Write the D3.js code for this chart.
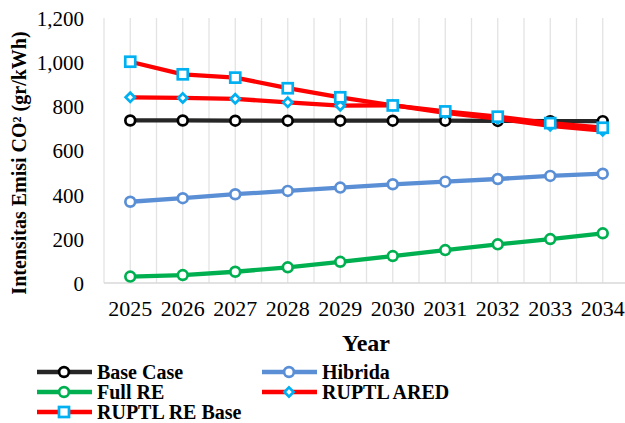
<!DOCTYPE html>
<html>
<head>
<meta charset="utf-8">
<script src="https://cdn.jsdelivr.net/npm/d3@7/dist/d3.min.js"></script>
<style>
  html, body { margin: 0; padding: 0; background: #fff; }
  svg { display: block; }
  svg text { font-family: "Liberation Serif", "Times New Roman", Times, "DejaVu Serif", serif !important; }
</style>
</head>
<body>
<svg id="chart" width="625" height="423"></svg>
<script>
const years = ["2025","2026","2027","2028","2029","2030","2031","2032","2033","2034"];
const yTicks = [0, 200, 400, 600, 800, 1000, 1200];

const baseCase   = [736, 736, 735, 735, 735, 735, 735, 734, 733, 733];
const hibrida    = [368, 384, 402, 417, 432, 447, 459, 471, 485, 495];
const fullRE     = [29, 36, 51, 71, 96, 122, 149, 175, 199, 225];
const ruptlARED  = [841, 838, 834, 818, 803, 805, 770, 744, 712, 690];
const ruptlREBase= [1002, 945, 930, 882, 841, 804, 777, 753, 724, 703];

const seriesNames  = ["Base Case", "Hibrida", "Full RE", "RUPTL ARED", "RUPTL RE Base"];
const seriesValues = [baseCase, hibrida, fullRE, ruptlARED, ruptlREBase];
const lineColors   = ["#262626", "#5A8FD6", "#00B050", "#FF0000", "#FF0000"];
const markerColors = ["#000000", "#5A8FD6", "#00B050", "#00B0F0", "#00B0F0"];
const markerShapes = ["circle", "circle", "circle", "diamond", "square"];

const FONT = "'Liberation Serif', 'Times New Roman', Times, 'DejaVu Serif', serif";

const svg = d3.select("#chart");
const plot = { left: 104, right: 629, top: 18, bottom: 283 };

const x = d3.scaleBand().domain(years).range([plot.left, plot.right]);
const y = d3.scaleLinear().domain([0, 1200]).range([plot.bottom, plot.top]);
const cx = d => x(d) + x.bandwidth() / 2;

// vertical gridlines at category centers and boundaries
const gridXs = [];
years.forEach(yr => { gridXs.push(x(yr)); gridXs.push(cx(yr)); });
svg.append("g").selectAll("line").data(gridXs).join("line")
  .attr("x1", d => d).attr("x2", d => d)
  .attr("y1", plot.top).attr("y2", plot.bottom)
  .attr("stroke", "#e3e3e3").attr("stroke-width", 1.3);

// x axis line
svg.append("line")
  .attr("x1", plot.left).attr("x2", plot.right)
  .attr("y1", plot.bottom).attr("y2", plot.bottom)
  .attr("stroke", "#d9d9d9").attr("stroke-width", 1.5);

// y ticks
const yAxis = d3.axisLeft(y).tickValues(yTicks).tickSize(0).tickPadding(0)
  .tickFormat(d3.format(","));
const gy = svg.append("g").attr("transform", "translate(84,0)").call(yAxis)
  .attr("font-family", FONT);
gy.select(".domain").remove();
gy.selectAll("text").attr("font-size", 21).attr("fill", "#000")
  .style("font-family", FONT).attr("dy", "0.35em");

// x ticks
const xAxis = d3.axisBottom(x).tickSize(0).tickPadding(0);
const gx = svg.append("g").attr("transform", "translate(0,300)").call(xAxis)
  .attr("font-family", FONT);
gx.select(".domain").remove();
gx.selectAll("text").attr("font-size", 22).attr("fill", "#000")
  .style("font-family", FONT).attr("dy", "0.72em");

// axis titles
svg.append("text").attr("x", 366).attr("y", 351).attr("text-anchor", "middle")
  .style("font-family", FONT)
  .attr("font-size", 24).attr("font-weight", "bold").text("Year");

svg.append("text")
  .attr("transform", "translate(26,163) rotate(-90)")
  .style("font-family", FONT)
  .attr("text-anchor", "middle").attr("font-size", 20).attr("font-weight", "bold")
  .text("Intensitas Emisi CO² (gr/kWh)");

function drawMarker(g, shape, px, py, color) {
  if (shape === "circle") {
    g.append("circle").attr("cx", px).attr("cy", py).attr("r", 4.9)
      .attr("fill", "#fff").attr("stroke", color).attr("stroke-width", 2.7);
  } else if (shape === "square") {
    g.append("rect").attr("x", px - 5).attr("y", py - 5).attr("width", 10).attr("height", 10)
      .attr("fill", "#fff").attr("stroke", color).attr("stroke-width", 2.7);
  } else {
    const s = 4.6;
    g.append("path").attr("d", `M${px},${py - s}L${px + s},${py}L${px},${py + s}L${px - s},${py}Z`)
      .attr("fill", "#fff").attr("stroke", color).attr("stroke-width", 2.7);
  }
}

const line = d3.line().x((d, i) => cx(years[i])).y(d => y(d));

seriesValues.forEach((vals, si) => {
  const g = svg.append("g");
  g.append("path").datum(vals).attr("d", line)
    .attr("fill", "none").attr("stroke", lineColors[si]).attr("stroke-width", 4.3)
    .attr("stroke-linejoin", "round");
  vals.forEach((v, i) => drawMarker(g, markerShapes[si], cx(years[i]), y(v), markerColors[si]));
});

// legend
const legendPos = [
  { lx: 37, ly: 372 }, { lx: 262, ly: 372 },
  { lx: 37, ly: 392 }, { lx: 262, ly: 392 },
  { lx: 37, ly: 412 }
];
seriesNames.forEach((name, si) => {
  const p = legendPos[si];
  const g = svg.append("g");
  g.append("line").attr("x1", p.lx).attr("x2", p.lx + 55).attr("y1", p.ly).attr("y2", p.ly)
    .attr("stroke", lineColors[si]).attr("stroke-width", 4.3);
  drawMarker(g, markerShapes[si], p.lx + 27, p.ly, markerColors[si]);
  g.append("text").attr("x", p.lx + 60).attr("y", p.ly).attr("dy", "0.35em")
    .style("font-family", FONT)
    .attr("font-size", 20).attr("font-weight", "bold").text(name);
});
</script>
</body>
</html>
